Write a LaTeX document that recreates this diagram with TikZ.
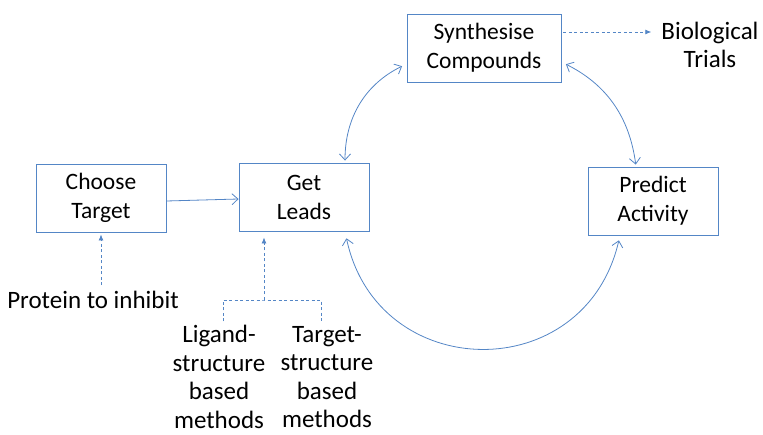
\documentclass[tikz,border=0pt]{standalone}
\usepackage{fontspec}
\setmainfont{Carlito}
\usetikzlibrary{arrows.meta}
\usetikzlibrary{positioning}

\definecolor{flowblue}{RGB}{84,134,198}

\tikzset{
  stagebox/.style={draw=flowblue, line width=0.9pt, minimum width=130pt, minimum height=68pt, align=center, inner sep=2pt, font=\fontsize{23.5}{29}\selectfont},
  plaintext/.style={align=center, inner sep=0pt, font=\fontsize{25}{28.5}\selectfont},
  cyclearrow/.style={draw=flowblue, line width=0.8pt, {Straight Barb[length=6pt,width=11pt]}-{Straight Barb[length=6pt,width=11pt]}},
  feedarrow/.style={draw=flowblue, line width=0.8pt, dash pattern=on 3pt off 2.5pt, -{Latex[length=6pt,width=5pt]}},
  feedline/.style={draw=flowblue, line width=0.8pt, dash pattern=on 3pt off 2.5pt}
}

\begin{document}
\begin{tikzpicture}[x=1pt,y=-1pt]
\useasboundingbox (0,0) rectangle (763,435);

\node[stagebox] (choose) at (101,198) {Choose\\Target};
\node[stagebox] (leads) at (304,197) {Get\\Leads};
\node[stagebox, minimum width=154pt] (synth) at (484,48) {Synthesise\\Compounds};
\node[stagebox] (predict) at (653,201) {Predict\\Activity};

\node[plaintext] (bio) at (710,45) {Biological\\Trials};
\node[plaintext] (protein) at (93,300) {Protein to inhibit};
\node[plaintext] (ligand) at (219,377) {Ligand-\\structure\\based\\methods};
\node[plaintext] (target) at (327,377) {Target-\\structure\\based\\methods};
\coordinate (split) at (264,300);

% main flow
\draw[draw=flowblue, line width=0.8pt, -{Straight Barb[length=6pt,width=11pt]}] ([yshift=-3pt]choose.east) -- ([yshift=-2pt]leads.west);

% design cycle
\draw[cyclearrow, shorten <=2pt, shorten >=5pt] ([xshift=41pt]leads.north) to[bend left=32] ([yshift=-16pt]synth.west);
\draw[cyclearrow, shorten <=5pt, shorten >=2pt] ([yshift=-14pt]synth.east) to[bend left=28] ([xshift=-17pt]predict.north);
\draw[cyclearrow, shorten <=7pt, shorten >=5pt] ([xshift=41pt]leads.south) to[out=-78,in=-103,looseness=1.45] ([xshift=-33pt]predict.south);

% inputs and outputs
\draw[feedarrow, shorten >=10pt] ([yshift=16pt,xshift=2pt]synth.east) -- ([yshift=13pt]bio.west);
\draw[feedarrow, shorten <=6pt, shorten >=2pt] (protein.north -| choose.south) -- (choose.south);
\draw[feedline] ([xshift=4pt,yshift=4pt]ligand.north) |- (split) -| ([xshift=-6pt,yshift=4pt]target.north);
\draw[feedarrow, shorten >=6pt] (split) -- ([xshift=-40pt]leads.south);

\end{tikzpicture}
\end{document}
